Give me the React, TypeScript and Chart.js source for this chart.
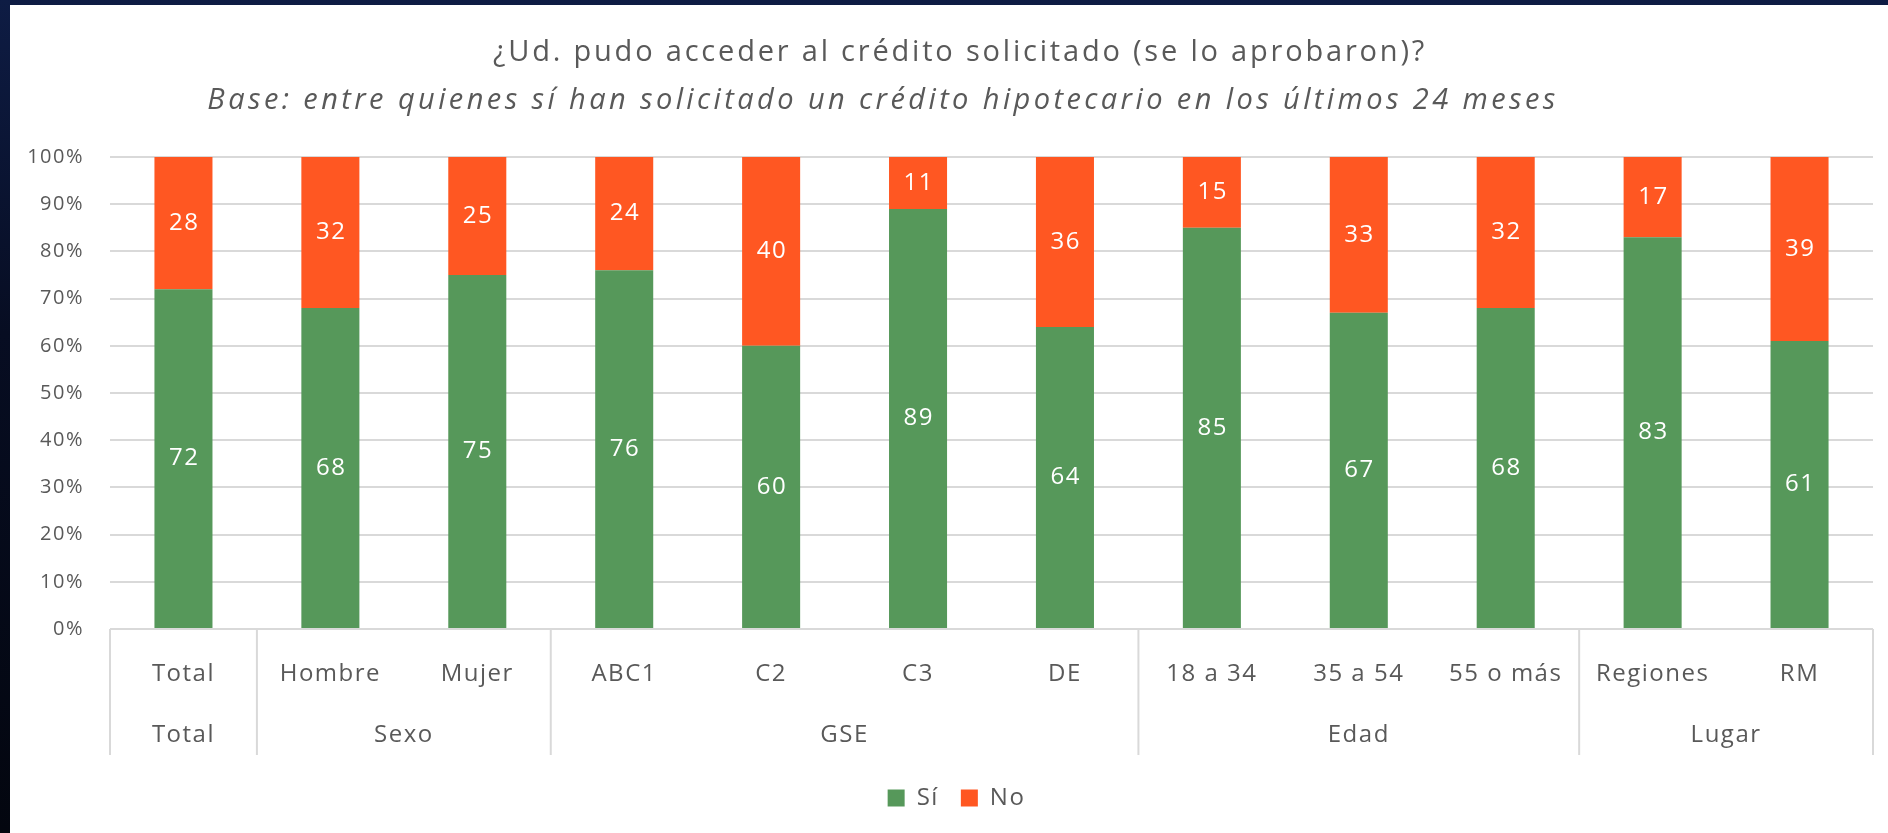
import React, { useEffect, useRef } from 'react';
import { Chart, registerables } from 'chart.js';

Chart.register(...registerables);

const categories = ['Total', 'Hombre', 'Mujer', 'ABC1', 'C2', 'C3', 'DE', '18 a 34', '35 a 54', '55 o más', 'Regiones', 'RM'];
const groupLabels = ['Total', 'Sexo', 'GSE', 'Edad', 'Lugar'];
const groupSizes = [1, 2, 4, 3, 2];
const siValues = [72, 68, 75, 76, 60, 89, 64, 85, 67, 68, 83, 61];
const noValues = [28, 32, 25, 24, 40, 11, 36, 15, 33, 32, 17, 39];
const seriesNames = ['Sí', 'No'];
const titleText = '¿Ud. pudo acceder al crédito solicitado (se lo aprobaron)?';
const subtitleText = 'Base: entre quienes sí han solicitado un crédito hipotecario en los últimos 24 meses';

const FONT = "'Open Sans', 'Noto Sans', sans-serif";
const TEXT = '#595959';
const GRID = '#D9D9D9';
const GREEN = '#56985A';
const ORANGE = '#FF5722';

const W = 1878;
const H = 828;

const spacingPlugin = {
  id: 'spacing',
  afterLayout(chart: any) {
    if (chart.legend) {
      chart.legend.left += 12;
      chart.legend.right += 12;
    }
  },
  beforeDraw(chart: any) {
    chart.ctx.letterSpacing = '1.5px';
  },
};

const overlayPlugin = {
  id: 'overlay',
  afterDatasetsDraw(chart: any) {
    const { ctx } = chart;
    ctx.save();
    ctx.letterSpacing = '1.5px';
    ctx.fillStyle = '#FFFFFF';
    ctx.font = `24px ${FONT}`;
    ctx.textAlign = 'center';
    ctx.textBaseline = 'middle';
    chart.data.datasets.forEach((ds: any, di: number) => {
      const meta = chart.getDatasetMeta(di);
      meta.data.forEach((bar: any, i: number) => {
        const v = ds.data[i];
        ctx.fillText(String(v), bar.x + 0.75, (bar.y + bar.base) / 2);
      });
    });
    ctx.restore();
  },
  afterDraw(chart: any) {
    const { ctx, chartArea } = chart;
    const xs = chart.scales.x;
    ctx.save();
    // titles
    ctx.fillStyle = TEXT;
    ctx.textAlign = 'center';
    ctx.textBaseline = 'middle';
    ctx.letterSpacing = '2.8px';
    ctx.font = `29px ${FONT}`;
    ctx.fillText(titleText, 950, 48);
    ctx.letterSpacing = '3.4px';
    ctx.font = `italic 29px ${FONT}`;
    ctx.fillText(subtitleText, 873, 96);

    // grouped axis
    ctx.letterSpacing = '1.5px';
    const half = (xs.getPixelForValue(1) - xs.getPixelForValue(0)) / 2;
    const top = chartArea.bottom;
    const bottom = top + 126;
    ctx.strokeStyle = GRID;
    ctx.lineWidth = 2;
    const drawV = (x: number) => {
      ctx.beginPath();
      ctx.moveTo(x, top);
      ctx.lineTo(x, bottom);
      ctx.stroke();
    };
    drawV(xs.getPixelForValue(0) - half);
    let idx = 0;
    ctx.font = `24px ${FONT}`;
    groupSizes.forEach((n, g) => {
      const left = xs.getPixelForValue(idx) - half;
      idx += n;
      const right = xs.getPixelForValue(idx - 1) + half;
      drawV(right);
      ctx.fillText(groupLabels[g], (left + right) / 2, top + 106);
    });
    ctx.restore();
    ctx.letterSpacing = '0px';
  },
};

export default function App() {
  const ref = useRef<HTMLCanvasElement | null>(null);
  useEffect(() => {
    if (!ref.current) return;
    const chart = new Chart(ref.current, {
      type: 'bar',
      data: {
        labels: categories,
        datasets: [
          { label: seriesNames[0], data: siValues, backgroundColor: GREEN, categoryPercentage: 1, barPercentage: 0.395 },
          { label: seriesNames[1], data: noValues, backgroundColor: ORANGE, categoryPercentage: 1, barPercentage: 0.395 },
        ],
      },
      options: {
        responsive: false,
        animation: false,
        layout: { padding: { top: 152, right: 15, left: 0, bottom: 13 } },
        plugins: {
          title: { display: false },
          tooltip: { enabled: false },
          legend: {
            position: 'bottom',
            labels: {
              boxWidth: 17,
              boxHeight: 17,
              padding: 22,
              color: TEXT,
              font: { size: 24, family: FONT },
            },
          },
        },
        scales: {
          x: {
            stacked: true,
            grid: { display: false },
            border: { display: false },
            ticks: { color: TEXT, font: { size: 24, family: FONT }, padding: 23, maxRotation: 0, autoSkip: false },
            afterFit: (s: any) => { s.height = 135; },
          },
          y: {
            stacked: true,
            min: 0,
            max: 100,
            ticks: { stepSize: 10, color: TEXT, font: { size: 20, family: FONT }, padding: 26, callback: (v: any) => v + '%' },
            grid: { color: GRID, lineWidth: 2, drawTicks: false },
            border: { display: false },
            afterFit: (s: any) => { s.width = 100; },
          },
        },
      },
      plugins: [spacingPlugin, overlayPlugin],
    });
    return () => chart.destroy();
  }, []);

  return (
    <div style={{ position: 'fixed', inset: 0, background: 'linear-gradient(180deg, #0e1c44 0%, #070d22 40%, #03060f 100%)' }}>
      <div style={{ position: 'absolute', left: 10, top: 5, width: W, height: H, background: '#FFFFFF' }}>
        <canvas ref={ref} width={W} height={H} style={{ display: 'block', width: W, height: H }} />
      </div>
    </div>
  );
}
